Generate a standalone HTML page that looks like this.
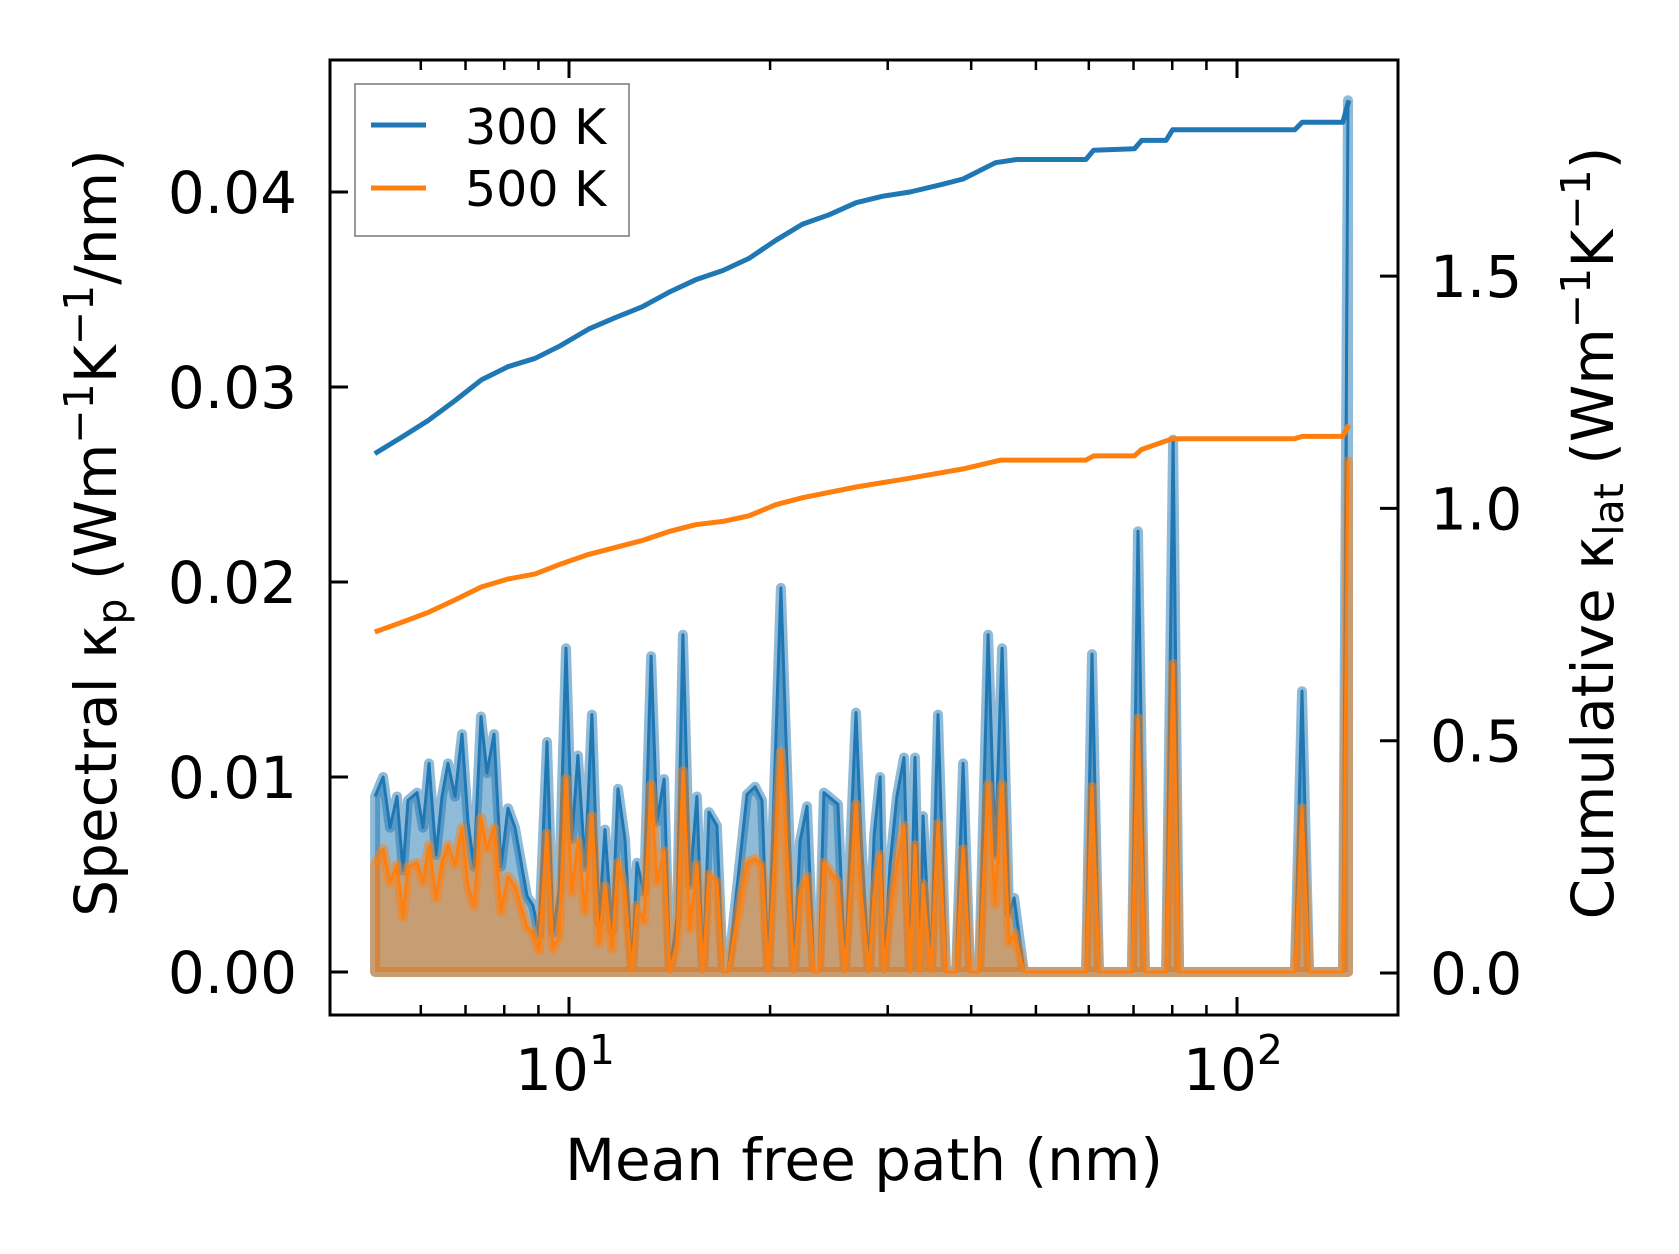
<!DOCTYPE html>
<html><head><meta charset="utf-8"><style>
html,body{margin:0;padding:0;background:#fff;}
svg{display:block;font-family:"DejaVu Sans","Liberation Sans",sans-serif;}
</style></head><body>
<svg id="chart" width="1679" height="1254" viewBox="0 0 1679 1254" xmlns="http://www.w3.org/2000/svg">
<rect x="0" y="0" width="1679" height="1254" fill="#fff"/>
<g id="marks"></g>
<g id="axes"></g>
</svg>
<script>
// spectral data
const mfpSpec = [5.125,5.268,5.395,5.527,5.643,5.741,5.922,6.045,6.172,6.323,6.455,6.590,6.750,6.915,7.060,7.208,7.384,7.537,7.722,7.910,8.103,8.302,8.652,8.833,9.018,9.271,9.462,9.661,9.897,10.10,10.31,10.57,10.82,11.09,11.32,11.60,11.84,12.13,12.42,12.64,12.95,13.27,13.54,13.88,14.16,14.51,14.81,15.17,15.54,15.87,16.20,16.65,17.00,17.30,18.47,18.99,19.45,19.86,20.76,21.71,22.17,22.71,23.26,23.67,24.08,25.27,25.89,26.89,27.36,28.13,28.62,29.22,29.63,30.24,30.97,31.73,32.40,32.96,33.53,33.88,34.83,35.68,36.68,37.97,38.90,39.85,41.11,42.41,43.44,44.50,45.59,46.38,47.99,59.43,60.67,62.15,69.62,71.08,72.82,78.31,80.22,81.90,122.1,125.1,128.2,144.1,146.6];
const spec300 = [9.0,10.0,7.4,9.0,5.2,8.8,9.2,7.4,10.7,6.0,9.0,10.7,9.0,12.2,7.7,5.4,13.1,10.2,12.2,5.4,8.4,7.4,3.9,3.4,1.9,11.8,2.0,4.1,16.6,6.8,11.1,5.4,13.2,2.5,7.3,2.1,9.4,6.8,0.1,5.6,4.1,16.2,7.7,9.9,0,2.8,17.3,4.5,9.0,0,8.2,7.5,0,0,9.1,9.5,8.8,0,19.7,0,6.7,8.5,0,0,9.2,8.6,0,13.3,7.0,0,7.0,10.0,0,5.5,9.0,11.0,0,11.0,0,8.0,0,13.2,0,0,10.7,0,0,17.3,6.0,16.6,3.0,3.8,0,0,16.3,0,0,22.6,0,0,27.3,0,0,14.4,0,0,44.7];
const spec500 = [5.5,6.3,4.6,5.5,2.8,5.4,5.6,4.6,6.5,3.8,5.6,6.5,5.5,7.4,4.4,3.4,7.9,6.3,7.4,3.1,4.9,4.4,2.3,2.0,1.1,7.1,1.2,1.8,9.9,4.1,6.7,3.1,8.0,1.5,4.4,1.2,5.6,4.1,0,3.4,2.6,9.6,4.6,6.2,0,1.5,10.3,2.2,5.5,0,5.0,4.6,0,0,5.6,5.8,5.4,0,11.3,0,4.0,4.9,0,0,5.6,4.6,0,8.6,4.0,0,4.0,6.0,0,3.0,5.5,7.5,0,6.5,0,4.5,0,7.6,0,0,6.3,0,0,9.6,3.5,9.6,1.5,2.0,0,0,9.5,0,0,13.0,0,0,15.8,0,0,8.4,0,0,26.2];
// cumulative data
const mfpCum300 = [5.12,5.6,6.15,6.75,7.40,8.1,8.90,9.7,10.70,11.7,12.87,14.1,15.47,17.0,18.60,20.4,22.37,24.5,26.9,29.5,32.4,36.1,38.9,43.5,46.8,59.4,61.0,70.2,72.0,78.3,80.1,122,125.2,144,147];
const cum300 = [1.118,1.152,1.189,1.232,1.277,1.305,1.323,1.350,1.386,1.410,1.434,1.465,1.492,1.512,1.538,1.577,1.612,1.632,1.658,1.672,1.681,1.697,1.709,1.744,1.751,1.751,1.771,1.774,1.792,1.792,1.815,1.815,1.831,1.831,1.878];
const mfpCum500 = [5.12,5.6,6.15,6.75,7.40,8.1,8.90,9.7,10.70,12.87,14.1,15.47,17.0,18.60,20.4,22.37,26.9,32.4,38.9,44.3,59.4,61.0,70.2,72.0,80.1,122,125.2,144,147];
const cum500 = [0.734,0.754,0.776,0.803,0.831,0.848,0.859,0.880,0.901,0.931,0.950,0.965,0.972,0.984,1.008,1.023,1.046,1.065,1.085,1.104,1.104,1.113,1.113,1.127,1.150,1.150,1.155,1.155,1.180];
// ticks
const leftTicks = [0, 0.01, 0.02, 0.03, 0.04];
const leftTickLabels = ["0.00","0.01","0.02","0.03","0.04"];
const rightTicks = [0, 0.5, 1.0, 1.5];
const rightTickLabels = ["0.0","0.5","1.0","1.5"];
const xMajor = [10, 100];
const xMinor = [6,7,8,9,20,30,40,50,60,70,80,90];

const L=330,R=1398,T=60,B=1015;
const NS="http://www.w3.org/2000/svg";
function xs(v){return 569+(Math.log10(v)-1)*668;}
function yl(v){return 972-v*19500;}
function yr(v){return 973-v*464.6;}
function mk(tag,attrs,parent){const e=document.createElementNS(NS,tag);for(const k in attrs)e.setAttribute(k,attrs[k]);parent.appendChild(e);return e;}
const marks=document.getElementById('marks'), axes=document.getElementById('axes');

function area(mfp, vals, color, name){
  let pts=mfp.map((m,i)=>xs(m).toFixed(1)+','+yl(vals[i]/1000).toFixed(1));
  const x0=xs(mfp[0]).toFixed(1), x1=xs(mfp[mfp.length-1]).toFixed(1);
  const d='M'+x0+','+yl(0).toFixed(1)+' L'+pts.join(' L')+' L'+x1+','+yl(0).toFixed(1)+' Z';
  const a=mk('path',{d:d,fill:color,'fill-opacity':0.5,stroke:color,'stroke-opacity':0.5,'stroke-width':10,'stroke-linejoin':'round'},marks);
  
  
  const l=mk('polyline',{points:pts.join(' '),fill:'none',stroke:color,'stroke-width':3,'stroke-linejoin':'round'},marks);
  
  
}
area(mfpSpec,spec300,'#1f77b4','spectral-300k');
area(mfpSpec,spec500,'#ff7f0e','spectral-500k');

function cumLine(mfp,vals,color,name){
  const pts=mfp.map((m,i)=>xs(m).toFixed(1)+','+yr(vals[i]).toFixed(1)).join(' ');
  const l=mk('polyline',{points:pts,fill:'none',stroke:color,'stroke-width':5,'stroke-linejoin':'round'},marks);
  
  
}
cumLine(mfpCum300,cum300,'#1f77b4','cumulative-300k');
cumLine(mfpCum500,cum500,'#ff7f0e','cumulative-500k');

// frame
const fr=mk('rect',{x:L,y:T,width:R-L,height:B-T,fill:'none',stroke:'#000','stroke-width':3},axes);


// x ticks
xMajor.forEach((v,i)=>{
  const x=xs(v);
  mk('line',{x1:x,y1:B,x2:x,y2:B-18,stroke:'#000','stroke-width':3},axes);
  mk('line',{x1:x,y1:T,x2:x,y2:T+18,stroke:'#000','stroke-width':3},axes);
  const t=mk('text',{x:x-4,y:1090,'font-size':58,'text-anchor':'middle'},axes);
  
  
  t.textContent='10';
  const s=mk('tspan',{dy:-26,'font-size':41},t);
  s.textContent=String(i+1);
});
xMinor.forEach(v=>{
  const x=xs(v);
  mk('line',{x1:x,y1:B,x2:x,y2:B-10,stroke:'#000','stroke-width':2.5},axes);
  mk('line',{x1:x,y1:T,x2:x,y2:T+10,stroke:'#000','stroke-width':2.5},axes);
});
// left ticks
leftTicks.forEach((v,i)=>{
  const y=yl(v);
  mk('line',{x1:L,y1:y,x2:L+18,y2:y,stroke:'#000','stroke-width':3},axes);
  const t=mk('text',{x:297,y:y+21,'font-size':58,'text-anchor':'end'},axes);
  
  
  t.textContent=leftTickLabels[i];
});
rightTicks.forEach((v,i)=>{
  const y=yr(v);
  mk('line',{x1:R,y1:y,x2:R-18,y2:y,stroke:'#000','stroke-width':3},axes);
  const t=mk('text',{x:1430,y:y+21,'font-size':58,'text-anchor':'start'},axes);
  
  
  t.textContent=rightTickLabels[i];
});
</script>
<svg style="position:absolute;left:0;top:0" width="1679" height="1254" viewBox="0 0 1679 1254" xmlns="http://www.w3.org/2000/svg" font-family="DejaVu Sans, Liberation Sans, sans-serif">
<text x="864" y="1180" font-size="58" text-anchor="middle">Mean free path (nm)</text>
<text transform="translate(116,533) rotate(-90)" font-size="58" text-anchor="middle">Spectral κ<tspan font-size="41" dy="10">p</tspan><tspan dy="-10"> (Wm</tspan><tspan font-size="41" dy="-23">−1</tspan><tspan dy="23">K</tspan><tspan font-size="41" dy="-23">−1</tspan><tspan dy="23">/nm)</tspan></text>
<text transform="translate(1613,533) rotate(-90)" font-size="58" text-anchor="middle">Cumulative κ<tspan font-size="41" dy="10">lat</tspan><tspan dy="-10"> (Wm</tspan><tspan font-size="41" dy="-23">−1</tspan><tspan dy="23">K</tspan><tspan font-size="41" dy="-23">−1</tspan><tspan dy="23">)</tspan></text>
<g>
<rect x="355" y="84" width="274" height="152" fill="#fff" fill-opacity="0.8" stroke="#999" stroke-width="2"/>
<line x1="371" y1="125" x2="426" y2="125" stroke="#1f77b4" stroke-width="5"/>
<text x="465" y="144" font-size="49">300 K</text>
<line x1="371" y1="188" x2="426" y2="188" stroke="#ff7f0e" stroke-width="5"/>
<text x="465" y="206" font-size="49">500 K</text>
</g>
</svg>
</body></html>
